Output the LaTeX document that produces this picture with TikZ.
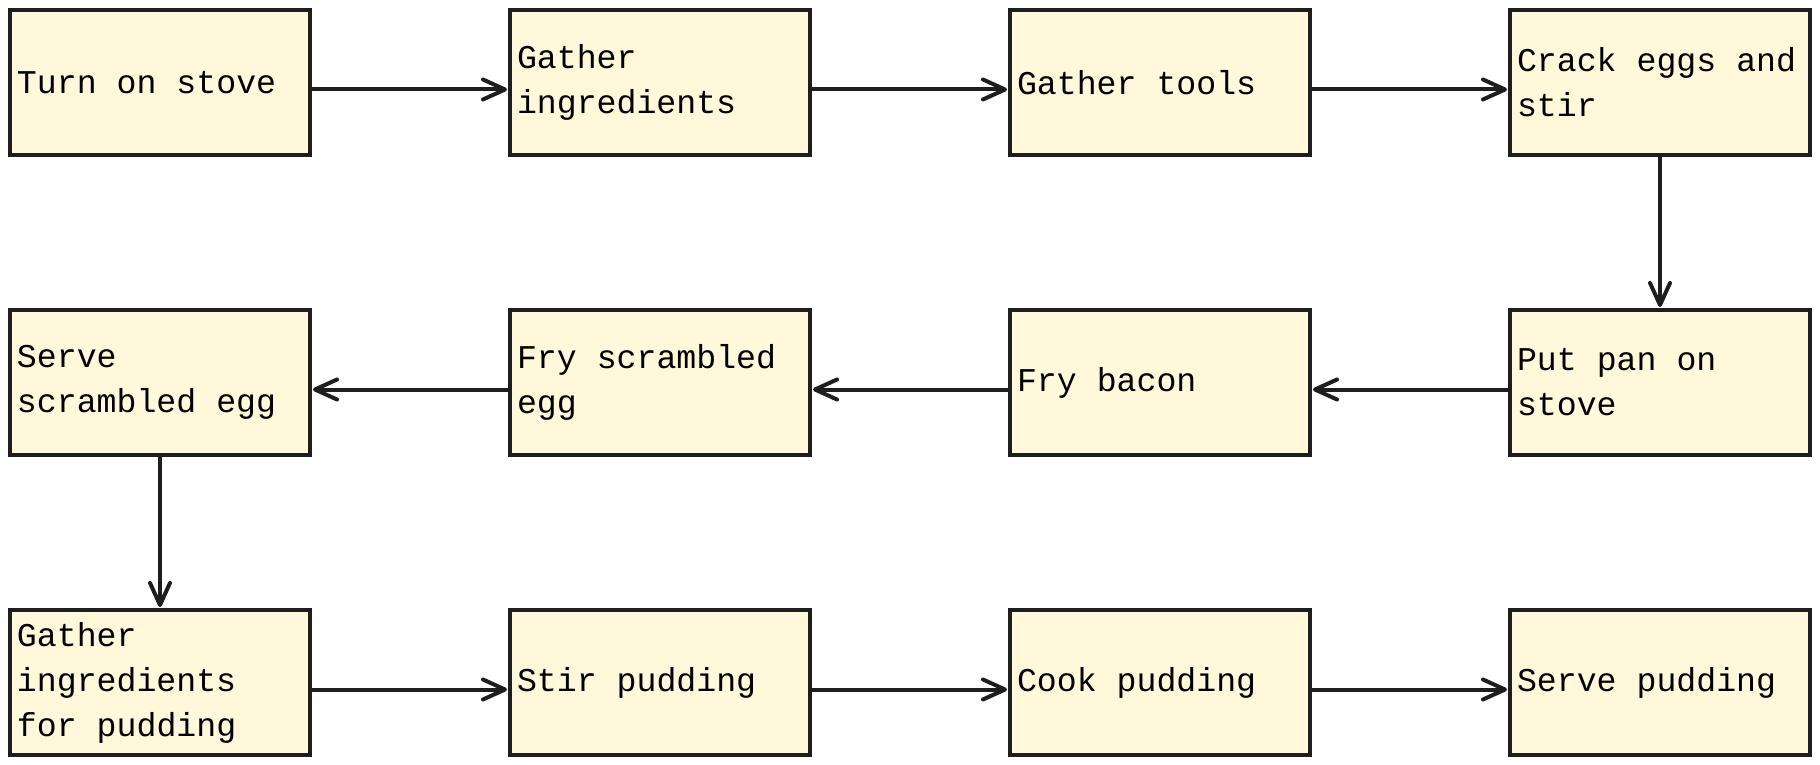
\documentclass[tikz,border=0pt]{standalone}
\usepackage{fontspec}
\setmonofont{Liberation Mono}
\usetikzlibrary{arrows.meta,positioning}
\definecolor{Ink}{HTML}{1E1E1E}
\definecolor{Cream}{HTML}{FFF8DA}

\begin{document}
\begin{tikzpicture}[
  node distance=77.5pt and 100pt,
  every node/.style={font=\fontsize{16.6pt}{22.5pt}\selectfont\ttfamily},
  box/.style={draw=Ink,line width=2pt,fill=Cream,align=left,text width=143pt,inner xsep=3.5pt,inner ysep=0pt,outer sep=0pt,minimum width=150pt,minimum height=72.5pt,execute at begin node={\spaceskip=10pt\relax}},
  arr/.style={-{Straight Barb[length=11pt,width=10pt,round]},line width=2pt,line cap=round,color=Ink,shorten <=0.5pt,shorten >=1.5pt},
  dropped/.style={yshift=-3.5pt}
]
% row 1
\node[box] (stove) {Turn on stove};
\node[box,right=of stove] (ingr) {Gather\\ingredients};
\node[box,right=of ingr] (tools) {Gather tools};
\node[box,right=of tools] (crack) {Crack eggs and\\stir};
% row 2
\node[box,below=of crack] (pan) {Put pan on\\stove};
\node[box,left=of pan] (bacon) {Fry bacon};
\node[box,left=of bacon] (fry) {Fry scrambled\\egg};
\node[box,left=of fry] (serveegg) {Serve\\scrambled egg};
% row 3
\node[box,below=of serveegg] (pudingr) {Gather\\ingredients\\for pudding};
\node[box,right=of pudingr] (stir) {Stir pudding};
\node[box,right=of stir] (cook) {Cook pudding};
\node[box,right=of cook] (servepud) {Serve pudding};

\useasboundingbox ([shift={(-5pt,5pt)}]stove.north west) rectangle ++(910pt,-382.5pt);

\draw[arr] ([dropped]stove.east) -- ([dropped]ingr.west);
\draw[arr] ([dropped]ingr.east) -- ([dropped]tools.west);
\draw[arr] ([dropped]tools.east) -- ([dropped]crack.west);
\draw[arr] (crack) -- (pan);
\draw[arr] ([dropped]pan.west) -- ([dropped]bacon.east);
\draw[arr] ([dropped]bacon.west) -- ([dropped]fry.east);
\draw[arr] ([dropped]fry.west) -- ([dropped]serveegg.east);
\draw[arr] (serveegg) -- (pudingr);
\draw[arr] ([dropped]pudingr.east) -- ([dropped]stir.west);
\draw[arr] ([dropped]stir.east) -- ([dropped]cook.west);
\draw[arr] ([dropped]cook.east) -- ([dropped]servepud.west);
\end{tikzpicture}
\end{document}
